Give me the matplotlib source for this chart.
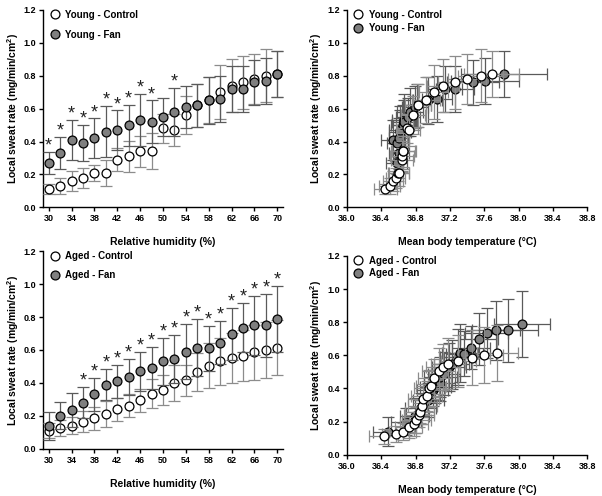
import matplotlib
matplotlib.use("Agg")
import matplotlib.pyplot as plt
from matplotlib.lines import Line2D
import numpy as np

plt.rcParams['font.family'] = ['Liberation Sans', 'DejaVu Sans']
plt.rcParams['font.weight'] = 'bold'
plt.rcParams['mathtext.fontset'] = 'custom'
plt.rcParams['mathtext.rm'] = 'Liberation Sans:bold'
plt.rcParams['mathtext.bf'] = 'Liberation Sans:bold'
plt.rcParams['mathtext.default'] = 'bf'

rh = [30, 32, 34, 36, 38, 40, 42, 44, 46, 48, 50, 52, 54, 56, 58, 60, 62, 64, 66, 68, 70]
rh_ticks = [30, 34, 38, 42, 46, 50, 54, 58, 62, 66, 70]
tb_ticks = [36.0, 36.4, 36.8, 37.2, 37.6, 38.0, 38.4, 38.8]
y_ticks = [0.0, 0.2, 0.4, 0.6, 0.8, 1.0, 1.2]

# Young
young_ctrl = [0.11, 0.13, 0.16, 0.18, 0.21, 0.21, 0.29, 0.31, 0.34, 0.34, 0.48, 0.47, 0.56, 0.62, 0.65, 0.70, 0.74, 0.76, 0.78, 0.80, 0.81]
young_ctrl_sd = [0.03, 0.05, 0.06, 0.06, 0.05, 0.08, 0.07, 0.095, 0.095, 0.11, 0.09, 0.10, 0.115, 0.13, 0.14, 0.165, 0.16, 0.16, 0.15, 0.16, 0.14]
young_fan = [0.27, 0.33, 0.41, 0.39, 0.42, 0.46, 0.47, 0.50, 0.53, 0.52, 0.55, 0.58, 0.61, 0.62, 0.65, 0.66, 0.72, 0.72, 0.76, 0.77, 0.81]
young_fan_sd = [0.065, 0.10, 0.12, 0.11, 0.12, 0.155, 0.12, 0.125, 0.16, 0.13, 0.115, 0.145, 0.13, 0.13, 0.145, 0.14, 0.14, 0.14, 0.135, 0.14, 0.14]
young_sig = [30, 32, 34, 36, 38, 40, 42, 44, 46, 48, 52]

young_ctrl_tb = [36.45, 36.50, 36.54, 36.57, 36.60, 36.61, 36.64, 36.64, 36.66, 36.66, 36.70, 36.72, 36.77, 36.83, 36.92, 37.01, 37.12, 37.26, 37.40, 37.56, 37.69]
young_ctrl_tb_sd = [0.13, 0.12, 0.12, 0.11, 0.12, 0.12, 0.13, 0.14, 0.14, 0.13, 0.13, 0.13, 0.14, 0.15, 0.16, 0.17, 0.19, 0.20, 0.22, 0.26, 0.32]
young_fan_tb = [36.58, 36.61, 36.54, 36.59, 36.61, 36.62, 36.62, 36.65, 36.67, 36.67, 36.71, 36.74, 36.79, 36.82, 36.94, 37.05, 37.14, 37.26, 37.47, 37.61, 37.83]
young_fan_tb_sd = [0.12, 0.12, 0.14, 0.12, 0.12, 0.13, 0.13, 0.13, 0.14, 0.14, 0.14, 0.15, 0.15, 0.16, 0.17, 0.18, 0.20, 0.22, 0.30, 0.40, 0.50]

# Aged
aged_ctrl = [0.11, 0.125, 0.14, 0.165, 0.185, 0.21, 0.24, 0.26, 0.295, 0.335, 0.355, 0.40, 0.415, 0.465, 0.505, 0.53, 0.55, 0.565, 0.585, 0.60, 0.615]
aged_ctrl_sd = [0.045, 0.05, 0.05, 0.065, 0.07, 0.077, 0.07, 0.07, 0.07, 0.09, 0.09, 0.11, 0.095, 0.115, 0.137, 0.14, 0.153, 0.156, 0.166, 0.17, 0.17]
aged_fan = [0.14, 0.20, 0.235, 0.28, 0.33, 0.39, 0.41, 0.435, 0.47, 0.49, 0.53, 0.545, 0.59, 0.615, 0.61, 0.645, 0.70, 0.735, 0.75, 0.75, 0.79]
aged_fan_sd = [0.085, 0.083, 0.105, 0.095, 0.10, 0.097, 0.10, 0.11, 0.12, 0.13, 0.145, 0.147, 0.168, 0.176, 0.136, 0.13, 0.158, 0.15, 0.18, 0.19, 0.20]
aged_sig = [36, 38, 40, 42, 44, 46, 48, 50, 52, 54, 56, 58, 60, 62, 64, 66, 68, 70]

aged_ctrl_tb = [36.43, 36.57, 36.65, 36.72, 36.78, 36.81, 36.84, 36.85, 36.88, 36.89, 36.93, 36.96, 36.98, 37.02, 37.07, 37.12, 37.18, 37.30, 37.46, 37.60, 37.75]
aged_ctrl_tb_sd = [0.17, 0.16, 0.16, 0.16, 0.16, 0.17, 0.17, 0.17, 0.17, 0.18, 0.18, 0.18, 0.18, 0.19, 0.19, 0.20, 0.20, 0.20, 0.21, 0.22, 0.24]
aged_fan_tb = [36.48, 36.69, 36.79, 36.86, 36.95, 37.00, 37.03, 37.08, 37.09, 37.13, 37.19, 37.22, 37.29, 37.32, 37.37, 37.45, 37.54, 37.63, 37.74, 37.88, 38.04]
aged_fan_tb_sd = [0.17, 0.17, 0.17, 0.18, 0.18, 0.18, 0.18, 0.18, 0.19, 0.19, 0.20, 0.20, 0.20, 0.21, 0.21, 0.22, 0.22, 0.25, 0.28, 0.34, 0.33]

FAN_COLOR = '#7f7f7f'
FAN_ERR = '#5a5a5a'
CTRL_ERR = '#8c8c8c'
MS = 6.4
CAP = 4.5
ELW = 0.9

fig = plt.figure(figsize=(6.02, 4.96), dpi=100)
ax_tl = fig.add_axes([0.0714, 0.582, 0.3987, 0.398])
ax_tr = fig.add_axes([0.576, 0.582, 0.3997, 0.398])
ax_bl = fig.add_axes([0.0714, 0.0954, 0.3987, 0.398])
ax_br = fig.add_axes([0.576, 0.0833, 0.3997, 0.4006])

YLABEL = r'Local sweat rate (mg/min/cm$^{2}$)'


def style(ax, xlim, xticks, xlabel, fmt):
    ax.set_ylim(0, 1.2)
    ax.set_xlim(*xlim)
    ax.set_yticks(y_ticks)
    ax.set_yticklabels(['%.1f' % v for v in y_ticks])
    ax.set_xticks(xticks)
    ax.set_xticklabels([fmt % v for v in xticks])
    for s in ['top', 'right']:
        ax.spines[s].set_visible(False)
    for s in ['left', 'bottom']:
        ax.spines[s].set_linewidth(1.0)
    ax.tick_params(axis='both', labelsize=6.5, length=3, width=1.0, pad=2)
    for lab in ax.get_xticklabels() + ax.get_yticklabels():
        lab.set_fontweight('bold')
    ax.set_xlabel(xlabel, fontsize=7.5, fontweight='bold', labelpad=10)
    ax.set_ylabel(YLABEL, fontsize=7.5, fontweight='bold', labelpad=2)


def add_legend(ax, labels, spacing):
    handles = [Line2D([], [], ls='none', marker='o', ms=MS, mfc='white', mec='black', mew=0.9),
               Line2D([], [], ls='none', marker='o', ms=MS, mfc=FAN_COLOR, mec='black', mew=0.9)]
    leg = ax.legend(handles, labels, loc='upper left', bbox_to_anchor=(0.008, 1.025), frameon=False,
                    handlelength=1.0, handletextpad=0.6, labelspacing=spacing, borderpad=0.0,
                    prop={'size': 7, 'weight': 'bold'})
    return leg


def rh_panel(ax, ctrl, ctrl_sd, fan, fan_sd, sig, labels, spacing):
    ax.errorbar(rh, ctrl, yerr=ctrl_sd, fmt='o', ms=MS, mfc='white', mec='black', mew=0.9,
                ecolor=CTRL_ERR, elinewidth=ELW, capsize=CAP, capthick=ELW, zorder=3)
    ax.errorbar(rh, fan, yerr=fan_sd, fmt='o', ms=MS, mfc=FAN_COLOR, mec='black', mew=0.9,
                ecolor=FAN_ERR, elinewidth=ELW, capsize=CAP, capthick=ELW, zorder=4)
    for x in sig:
        i = rh.index(x)
        ax.text(x, fan[i] + fan_sd[i] + 0.035, '*', ha='center', va='center',
                fontsize=13, fontweight='normal', color='#222222')
    style(ax, (29, 71), rh_ticks, 'Relative humidity (%)', '%d')
    add_legend(ax, labels, spacing)


def tb_panel(ax, ctrl_tb, ctrl_tb_sd, ctrl, ctrl_sd, fan_tb, fan_tb_sd, fan, fan_sd, labels, spacing):
    ax.errorbar(fan_tb, fan, xerr=fan_tb_sd, yerr=fan_sd, fmt='o', ms=MS, mfc=FAN_COLOR, mec='black',
                mew=0.9, ecolor=FAN_ERR, elinewidth=ELW, capsize=CAP, capthick=ELW, zorder=3)
    ax.errorbar(ctrl_tb, ctrl, xerr=ctrl_tb_sd, yerr=ctrl_sd, fmt='o', ms=MS, mfc='white', mec='black',
                mew=0.9, ecolor=CTRL_ERR, elinewidth=ELW, capsize=CAP, capthick=ELW, zorder=4)
    style(ax, (36.0, 38.8), tb_ticks, 'Mean body temperature (\u00b0C)', '%.1f')
    add_legend(ax, labels, spacing)


rh_panel(ax_tl, young_ctrl, young_ctrl_sd, young_fan, young_fan_sd, young_sig,
         ['Young - Control', 'Young - Fan'], 1.0)
tb_panel(ax_tr, young_ctrl_tb, young_ctrl_tb_sd, young_ctrl, young_ctrl_sd,
         young_fan_tb, young_fan_tb_sd, young_fan, young_fan_sd,
         ['Young - Control', 'Young - Fan'], 0.35)
rh_panel(ax_bl, aged_ctrl, aged_ctrl_sd, aged_fan, aged_fan_sd, aged_sig,
         ['Aged - Control', 'Aged - Fan'], 0.95)
tb_panel(ax_br, aged_ctrl_tb, aged_ctrl_tb_sd, aged_ctrl, aged_ctrl_sd,
         aged_fan_tb, aged_fan_tb_sd, aged_fan, aged_fan_sd,
         ['Aged - Control', 'Aged - Fan'], 0.25)

fig.savefig('out.png', dpi=100)
